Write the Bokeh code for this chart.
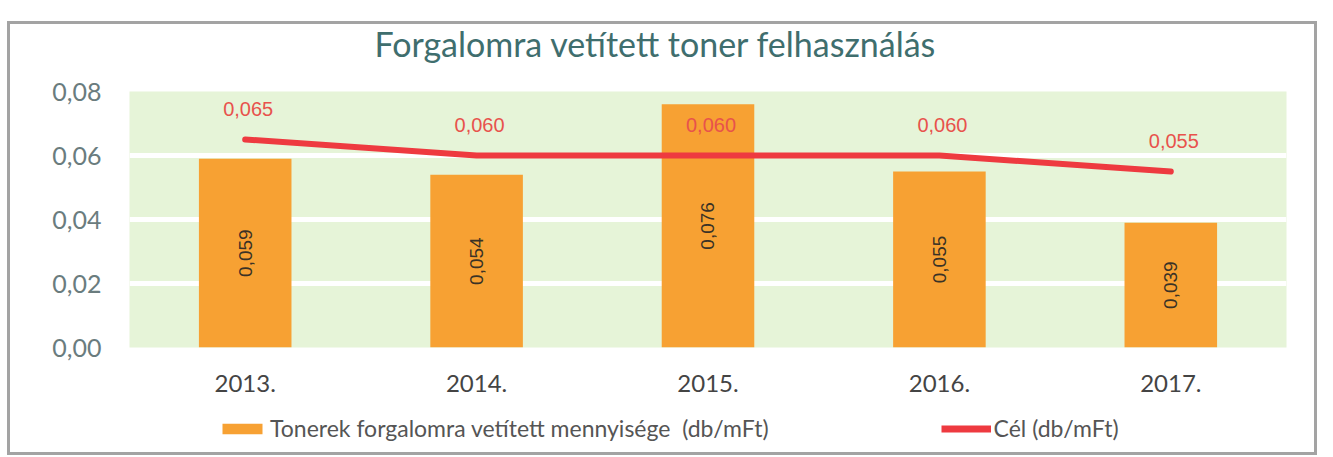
from bokeh.plotting import figure
from bokeh.layouts import column
from bokeh.models import (ColumnDataSource, Range1d, FixedTicker, CustomJSTickFormatter,
                          LabelSet, Label, Legend, LegendItem)
from bokeh.core.properties import value
from bokeh.embed import file_html
from bokeh.resources import INLINE
import math

title_text = "Forgalomra vetített toner felhasználás"
years = ["2013.", "2014.", "2015.", "2016.", "2017."]
toner = [0.059, 0.054, 0.076, 0.055, 0.039]
target = [0.065, 0.060, 0.060, 0.060, 0.055]
y_ticks = [0.0, 0.02, 0.04, 0.06, 0.08]
bar_name = "Tonerek forgalomra vetített mennyisége  (db/mFt)"
line_name = "Cél (db/mFt)"

BAR_C = "#f7a133"
LINE_C = "#ee3a40"
FRAME = "3px solid #a3a3a3"
W = 1310

def hu(v):
    return f"{v:.3f}".replace(".", ",")

src = ColumnDataSource(dict(
    year=years, toner=toner, target=target,
    half=[v / 2 for v in toner],
    toner_lbl=[hu(v) for v in toner],
    target_lbl=[hu(v) for v in target],
))

def bare(height, x_range, y_range):
    f = figure(width=W, height=height, x_range=x_range, y_range=y_range,
               x_axis_location=None, y_axis_location=None,
               output_backend="svg", toolbar_location=None,
               min_border_left=0, min_border_right=0, min_border_top=0, min_border_bottom=0)
    f.grid.visible = False
    f.outline_line_color = None
    f.background_fill_color = "white"
    f.border_fill_color = "white"
    return f

# title strip
tit = bare(48, Range1d(0, W - 6), Range1d(0, 45))
tit.styles = {"border-top": FRAME, "border-left": FRAME, "border-right": FRAME}
tit.add_layout(Label(x=276, y=27, text=title_text, text_align="left", text_baseline="middle",
                     text_font="Lato", text_font_size="34px", text_color="#3f6e6e"))

# main chart
p = figure(x_range=years, y_range=Range1d(0, 0.08), width=W, height=330,
           output_backend="svg", toolbar_location=None,
           min_border_left=119, min_border_right=34, min_border_top=22, min_border_bottom=52)
p.styles = {"border-left": FRAME, "border-right": FRAME}

p.background_fill_color = "#e6f4d8"
p.border_fill_color = "white"
p.outline_line_color = None

p.xgrid.grid_line_color = None
p.ygrid.grid_line_color = "white"
p.ygrid.grid_line_width = 5

p.yaxis.ticker = FixedTicker(ticks=y_ticks)
p.yaxis.formatter = CustomJSTickFormatter(code="return tick.toFixed(2).replace('.', ',');")
p.yaxis.axis_line_color = None
p.yaxis.major_tick_line_color = None
p.yaxis.minor_tick_line_color = None
p.yaxis.major_label_text_font = "Lato"
p.yaxis.major_label_text_font_size = "25px"
p.yaxis.major_label_text_color = "#6a7c7e"
p.yaxis.major_label_standoff = 22

p.xaxis.axis_line_color = None
p.xaxis.major_tick_line_color = None
p.xaxis.minor_tick_line_color = None
p.xaxis.major_label_text_font = "Lato"
p.xaxis.major_label_text_font_size = "24px"
p.xaxis.major_label_text_color = "#444444"
p.xaxis.major_label_standoff = 21

p.vbar(x="year", top="toner", width=0.4, source=src, fill_color=BAR_C, line_color=None)
p.line(x="year", y="target", source=src, line_color=LINE_C, line_width=6, line_cap="round")

p.add_layout(LabelSet(x="year", y="half", text="toner_lbl", source=src, angle=math.pi / 2,
                      text_align="center", text_baseline="middle",
                      text_font=value("Liberation Sans"), text_font_size=value("19px"),
                      text_color=value("#3a3226")))
p.add_layout(LabelSet(x="year", y="target", text="target_lbl", source=src, x_offset=3, y_offset=31,
                      text_align="center", text_baseline="middle",
                      text_font=value("Liberation Sans"), text_font_size=value("20px"),
                      text_color=value("#e8524c")))

# legend strip (its glyphs reuse the data but lie outside the visible y range)
lg = bare(56, years, Range1d(1, 2))
lg.styles = {"border-bottom": FRAME, "border-left": FRAME, "border-right": FRAME}
r_bar = lg.vbar(x="year", top="toner", width=0.4, source=src, fill_color=BAR_C, line_color=None)
r_line = lg.line(x="year", y="target", source=src, line_color=LINE_C, line_width=7)

legend = Legend(items=[
    LegendItem(label=bar_name, renderers=[r_bar]),
    LegendItem(label=line_name, renderers=[r_line]),
], location=(88, 13), orientation="horizontal", spacing=172, margin=0, padding=0,
   glyph_width=50, glyph_height=13, label_standoff=3,
   label_text_font="Lato", label_text_font_size="23px", label_text_color="#555555",
   border_line_color=None, background_fill_alpha=0)
lg.add_layout(legend)

layout = column(tit, p, lg, spacing=0)
layout.margin = (21, 0, 0, 7)

open("out.html", "w").write(file_html(layout, INLINE))
